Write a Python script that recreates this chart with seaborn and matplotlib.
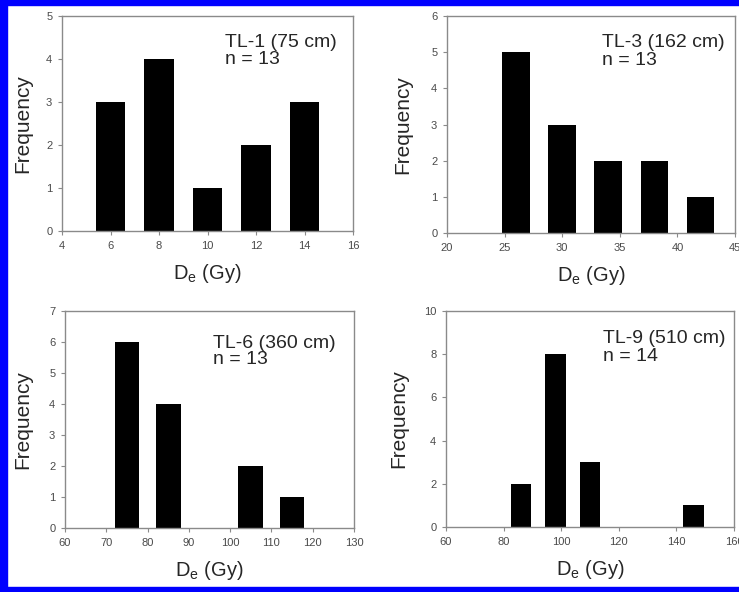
import matplotlib
matplotlib.use("Agg")
import matplotlib.pyplot as plt
from matplotlib.patches import Rectangle
import seaborn as sns
import pandas as pd

# ---- data ----
sample_labels = ["TL-1 (75 cm)", "TL-3 (162 cm)", "TL-6 (360 cm)", "TL-9 (510 cm)"]
n_labels = ["n = 13", "n = 13", "n = 13", "n = 14"]
bins_tl1 = [6, 8, 10, 12, 14]
freq_tl1 = [3, 4, 1, 2, 3]
bins_tl3 = [26, 30, 34, 38, 42]
freq_tl3 = [5, 3, 2, 2, 1]
bins_tl6 = [75, 85, 95, 105, 115]
freq_tl6 = [6, 4, 0, 2, 1]
bins_tl9 = [86, 98, 110, 122, 134, 146]
freq_tl9 = [2, 8, 3, 0, 0, 1]

xlims = [(4, 16), (20, 45), (60, 130), (60, 160)]
xticks = [list(range(4, 17, 2)), list(range(20, 46, 5)),
          list(range(60, 131, 10)), list(range(60, 161, 20))]
ylims = [(0, 5), (0, 6), (0, 7), (0, 10)]
yticks = [list(range(0, 6)), list(range(0, 7)), list(range(0, 8)), list(range(0, 11, 2))]

sns.set_style("ticks")
plt.rcParams["font.family"] = ["Liberation Sans", "DejaVu Sans"]
plt.rcParams["mathtext.fontset"] = "custom"
plt.rcParams["mathtext.rm"] = "Liberation Sans"
plt.rcParams["mathtext.it"] = "Liberation Sans"

W, H = 739, 592
fig = plt.figure(figsize=(W / 100, H / 100), dpi=100)

# axes boxes in pixels: left, top, right, bottom
boxes = [(62, 16, 353, 231), (447, 16, 735, 233),
         (65, 311, 354, 528), (446, 311, 734, 527)]
text_x = [0.56, 0.538, 0.512, 0.545]
text_y1 = [0.858, 0.857, 0.83, 0.852]
text_y2 = [0.778, 0.775, 0.755, 0.77]
ylab_x = [-0.103, -0.12, -0.114, -0.132]

datasets = [(bins_tl1, freq_tl1), (bins_tl3, freq_tl3),
            (bins_tl6, freq_tl6), (bins_tl9, freq_tl9)]

grey = "#8a8a8a"
for i, (bins, freq) in enumerate(datasets):
    l, t, r, b = boxes[i]
    ax = fig.add_axes([l / W, 1 - b / H, (r - l) / W, (b - t) / H])
    df = pd.DataFrame({"De": bins, "Frequency": freq})
    sns.barplot(data=df, x="De", y="Frequency", native_scale=True, width=0.6,
                color="black", saturation=1, errorbar=None, linewidth=0, ax=ax)
    ax.set_xlim(*xlims[i])
    ax.set_ylim(*ylims[i])
    ax.set_xticks(xticks[i])
    ax.set_yticks(yticks[i])
    for s in ax.spines.values():
        s.set_color(grey)
        s.set_linewidth(1.0)
        s.set_visible(True)
    ax.tick_params(axis="both", direction="out", length=3, width=0.8,
                   color=grey, labelsize=8, labelcolor="#4a4a4a", pad=4)
    ax.set_xlabel(r"$\mathregular{D_e}$ (Gy)", fontsize=14.5)
    ax.set_ylabel("Frequency", fontsize=15)
    ax.yaxis.set_label_coords(ylab_x[i], 0.5)
    ax.xaxis.set_label_coords(0.5, -0.145)
    ax.text(text_x[i], text_y1[i], sample_labels[i], transform=ax.transAxes,
            ha="left", va="baseline", fontsize=14)
    ax.text(text_x[i], text_y2[i], n_labels[i], transform=ax.transAxes,
            ha="left", va="baseline", fontsize=14)

# blue frame
blue = "#0000ff"
fig.patches.append(Rectangle((0, 1 - 5 / H), 1, 5 / H, transform=fig.transFigure,
                             color=blue, zorder=10))
fig.patches.append(Rectangle((0, 0), 7 / W, 1, transform=fig.transFigure,
                             color=blue, zorder=10))
fig.patches.append(Rectangle((0, 0), 1, 5 / H, transform=fig.transFigure,
                             color=blue, zorder=10))

fig.savefig("out.png", dpi=100)
